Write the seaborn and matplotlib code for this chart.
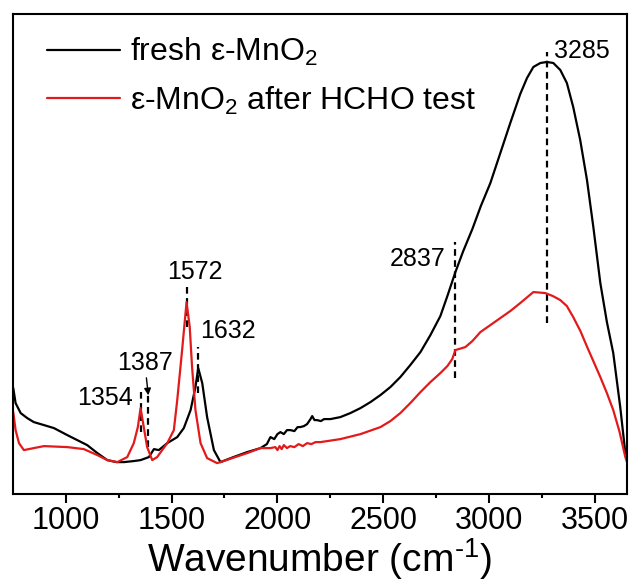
import numpy as np
import pandas as pd
import matplotlib
matplotlib.use("Agg")
import matplotlib.pyplot as plt
import seaborn as sns

# ---- data (intensity in arbitrary units) ----
fresh_wn = [753, 764, 788, 819, 850, 898, 945, 1008, 1055, 1102, 1150, 1197, 1240,
            1275, 1320, 1354, 1393, 1417, 1440, 1480, 1527, 1558, 1590, 1613, 1626,
            1645, 1668, 1700, 1731, 1792, 1857, 1920, 1950, 1967, 1985, 2000, 2014,
            2030, 2045, 2061, 2080, 2095, 2108, 2125, 2140, 2156, 2164, 2175, 2187,
            2205, 2220, 2250, 2297, 2344, 2392, 2439, 2486, 2533, 2580, 2627, 2675,
            2722, 2769, 2802, 2840, 2877, 2920, 2960, 3005, 3052, 3099, 3146, 3178,
            3208, 3241, 3272, 3302, 3335, 3366, 3396, 3429, 3461, 3491, 3524, 3555,
            3585, 3618, 3642, 3650]
fresh_abs = [106, 91, 81, 76, 72, 69, 66, 59, 54, 49, 41, 34, 32,
             32, 33, 34, 37, 45, 44, 51, 57, 66, 84, 107, 126,
             111, 77, 44, 32, 37, 42, 46, 50, 57, 55, 60, 62,
             60, 64, 64, 63, 67, 67, 68, 70, 75, 78, 74, 74,
             73, 75, 75, 77, 81, 86, 92, 99, 107, 117, 129, 142,
             159, 178, 198, 222, 243, 265, 288, 311, 341, 371, 400, 416,
             427, 431, 432, 431, 424, 411, 387, 354, 314, 267, 211, 172,
             141, 87, 41, 34]

after_wn = [753, 764, 780, 803, 850, 898, 1008, 1086, 1150, 1197, 1244, 1291, 1322,
            1341, 1354, 1369, 1385, 1409, 1432, 1480, 1511, 1527, 1550, 1571, 1586,
            1597, 1613, 1637, 1668, 1715, 1731, 1857, 1920, 1945, 1967, 1990, 2000,
            2010, 2020, 2030, 2045, 2060, 2080, 2100, 2120, 2140, 2160, 2180, 2203,
            2297, 2392, 2486, 2533, 2580, 2627, 2675, 2722, 2769, 2802, 2825, 2840,
            2887, 2920, 2958, 3005, 3052, 3099, 3146, 3208, 3264, 3300, 3335, 3366,
            3396, 3430, 3462, 3493, 3524, 3555, 3585, 3615, 3642, 3650]
after_abs = [82, 64, 51, 44, 46, 48, 47, 45, 39, 34, 32, 37, 51,
             67, 86, 67, 47, 34, 37, 51, 64, 94, 144, 192, 167,
             127, 84, 51, 36, 31, 32, 41, 46, 46, 46, 47, 44,
             48, 45, 49, 46, 48, 47, 50, 48, 51, 50, 52, 52,
             55, 60, 67, 73, 81, 91, 102, 112, 121, 128, 135, 144,
             147, 153, 162, 169, 176, 183, 191, 202, 201, 198, 194, 188,
             177, 163, 147, 132, 117, 101, 84, 62, 37, 32]

labels = ["fresh ε-MnO$\\mathregular{_2}$", "ε-MnO$\\mathregular{_2}$ after HCHO test"]
colors = ["#000000", "#e31a1c"]

# annotations: label text, dashed line x, dashed line y0, y1
peak_text = ["3285", "2837", "1632", "1572", "1387", "1354"]
peak_line_x = [3270, 2840, 1627, 1571, 1389, 1356]
peak_line_y0 = [171, 116, 101, 167, 47, 62]
peak_line_y1 = [442, 252, 147, 207, 104, 102]

df = pd.concat([
    pd.DataFrame({"wn": fresh_wn, "abs": fresh_abs, "sample": labels[0]}),
    pd.DataFrame({"wn": after_wn, "abs": after_abs, "sample": labels[1]}),
])

sns.set_style("ticks")
plt.rcParams["font.family"] = ["Liberation Sans", "DejaVu Sans"]
plt.rcParams["mathtext.fontset"] = "custom"
plt.rcParams["mathtext.rm"] = "Liberation Sans"
plt.rcParams["axes.unicode_minus"] = False
plt.rcParams["text.color"] = "black"
plt.rcParams["axes.labelcolor"] = "black"
plt.rcParams["xtick.color"] = "black"

fig = plt.figure(figsize=(6.31, 5.82), dpi=100)
ax = fig.add_axes([0.020, 0.151, 0.9737, 0.825])

sns.lineplot(data=df, x="wn", y="abs", hue="sample", palette=colors, ax=ax,
             linewidth=1.6, sort=False, estimator=None)

for t, lx, y0, y1 in zip(peak_text, peak_line_x, peak_line_y0, peak_line_y1):
    ax.plot([lx, lx], [y0, y1], color="black", lw=1.6, ls=(0, (3, 2)), zorder=1)

fs_ann = 18
ax.text(3305, 443, "3285", fontsize=fs_ann, ha="left", va="center")
ax.text(2795, 235, "2837", fontsize=fs_ann, ha="right", va="center")
ax.text(1633, 163, "1632", fontsize=fs_ann, ha="left", va="center")
ax.text(1610, 222, "1572", fontsize=fs_ann, ha="center", va="center")
ax.text(1375, 131, "1387", fontsize=fs_ann, ha="center", va="center")
ax.text(1185, 96, "1354", fontsize=fs_ann, ha="center", va="center")
ax.annotate("", xy=(1392, 96), xytext=(1380, 119),
            arrowprops=dict(arrowstyle="-|>", color="black", lw=1.0, mutation_scale=10))

ax.set_xlim(750, 3650)
ax.set_ylim(0, 480)
ax.set_xticks([1000, 1500, 2000, 2500, 3000, 3500])
ax.set_xticks([1250, 1750, 2250, 2750, 3250], minor=True)
ax.set_yticks([])
ax.set_ylabel("")
ax.set_xlabel("Wavenumber (cm$\\mathregular{^{\u2010 1}}$)", fontsize=28, labelpad=0)
ax.tick_params(axis="x", which="major", direction="out", length=6.5, width=1.5,
               labelsize=22, pad=2, colors="black")
ax.tick_params(axis="x", which="minor", direction="out", length=3, width=1.5,
               colors="black")
for s in ax.spines.values():
    s.set_visible(True)
    s.set_linewidth(1.5)
    s.set_color("black")

leg = ax.legend(loc="upper left", bbox_to_anchor=(0.035, 0.98), frameon=False,
                fontsize=23, handlelength=2.3, handletextpad=0.3, labelspacing=0.5,
                borderaxespad=0, title=None)
for h in leg.get_lines():
    h.set_linewidth(1.6)
for t in leg.get_texts():
    t.set_color("black")

fig.savefig("out.png", dpi=100)
